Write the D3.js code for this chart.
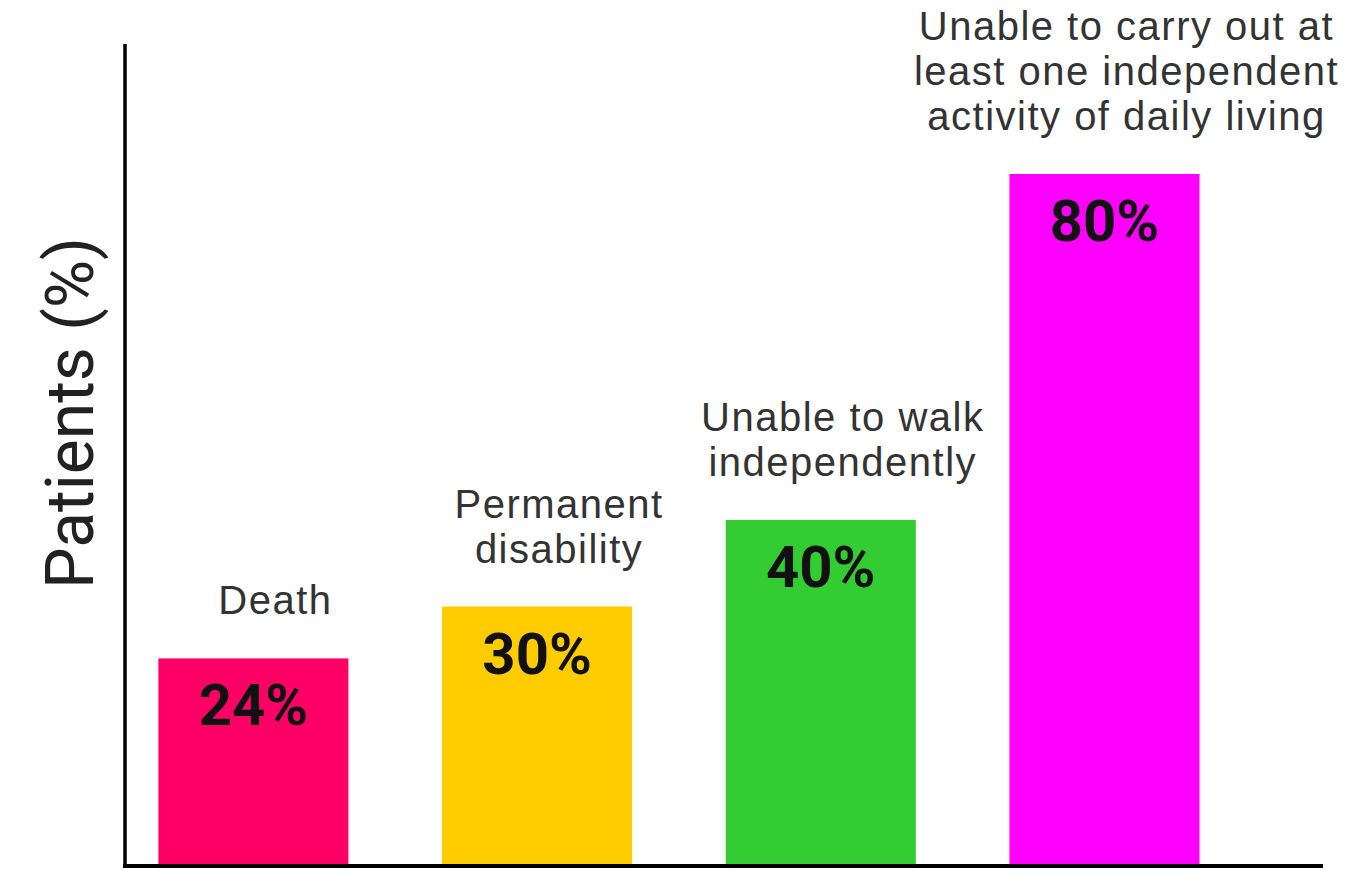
<!DOCTYPE html>
<html>
<head>
<meta charset="utf-8">
<script src="https://cdn.jsdelivr.net/npm/d3@7"></script>
<style>
  body { margin: 0; background: #fff; }
  text { font-family: Roboto, "Liberation Sans", Arial, sans-serif; }
</style>
</head>
<body>
<div id="chart"></div>
<script>
// outcome categories, one label line per array entry
const categories = ["Death", "Permanent disability", "Unable to walk", "Unable to carry out"];
const labelLines = [
    ["Death"],
    ["Permanent", "disability"],
    ["Unable to walk", "independently"],
    ["Unable to carry out at", "least one independent", "activity of daily living"]
];
const values = [24, 30, 40, 80];
const colors = ["#ff0066", "#ffcc00", "#33cc33", "#ff00ff"];

const W = 1355, H = 871;
const margin = { top: 44, right: 30, bottom: 5, left: 125 };
const width = W - margin.left - margin.right;
const height = H - margin.top - margin.bottom;

const svg = d3.select("#chart").append("svg")
    .attr("width", W)
    .attr("height", H);

const g = svg.append("g")
    .attr("transform", `translate(${margin.left},${margin.top})`);

const x = d3.scaleBand()
    .domain(categories)
    .range([0, width])
    .paddingInner(0.33)
    .paddingOuter(0.28)
    .align(0.21);

const y = d3.scaleLinear()
    .domain([0, 80])
    .range([height, height - 692]);

// bars
g.selectAll("rect.bar")
    .data(values)
    .join("rect")
    .attr("class", "bar")
    .attr("x", (d, i) => x(categories[i]))
    .attr("y", d => y(d))
    .attr("width", x.bandwidth())
    .attr("height", d => y(0) - y(d))
    .attr("fill", (d, i) => colors[i]);

// value labels inside the bars
g.selectAll("text.value")
    .data(values)
    .join("text")
    .attr("class", "value")
    .attr("x", (d, i) => x(categories[i]) + x.bandwidth() / 2)
    .attr("y", d => y(d) + 67)
    .attr("text-anchor", "middle")
    .style("font-size", "58px")
    .style("font-weight", "bold")
    .style("fill", "#111")
    .text(d => d + "%");

// category labels stacked above each bar (sit a little right of centre)
const lineHeight = 45;
labelLines.forEach((lines, i) => {
    const t = g.append("text")
        .attr("text-anchor", "middle")
        .style("font-family", "'Liberation Sans', Arial, sans-serif")
        .style("font-size", "40px")
        .style("letter-spacing", "1.5px")
        .style("fill", "#333");
    const cx = x(categories[i]) + x.bandwidth() / 2 + 22;
    const base = y(values[i]) - 44;
    lines.forEach((line, j) => {
        t.append("tspan")
            .attr("x", cx)
            .attr("y", base - (lines.length - 1 - j) * lineHeight)
            .text(line);
    });
});

// axes drawn as plain lines, no ticks
g.append("line")
    .attr("x1", 0).attr("x2", 0)
    .attr("y1", 0).attr("y2", height + 2)
    .attr("stroke", "#000")
    .attr("stroke-width", 3.5);

g.append("line")
    .attr("x1", -2).attr("x2", 1198)
    .attr("y1", y(0)).attr("y2", y(0))
    .attr("stroke", "#000")
    .attr("stroke-width", 4);

// y axis label
svg.append("text")
    .attr("transform", `translate(${margin.left - 55},${413}) rotate(-90)`)
    .attr("text-anchor", "middle")
    .attr("dy", "0.35em")
    .style("font-size", "66px")
    .style("fill", "#222")
    .text("Patients (%)");
</script>
</body>
</html>
